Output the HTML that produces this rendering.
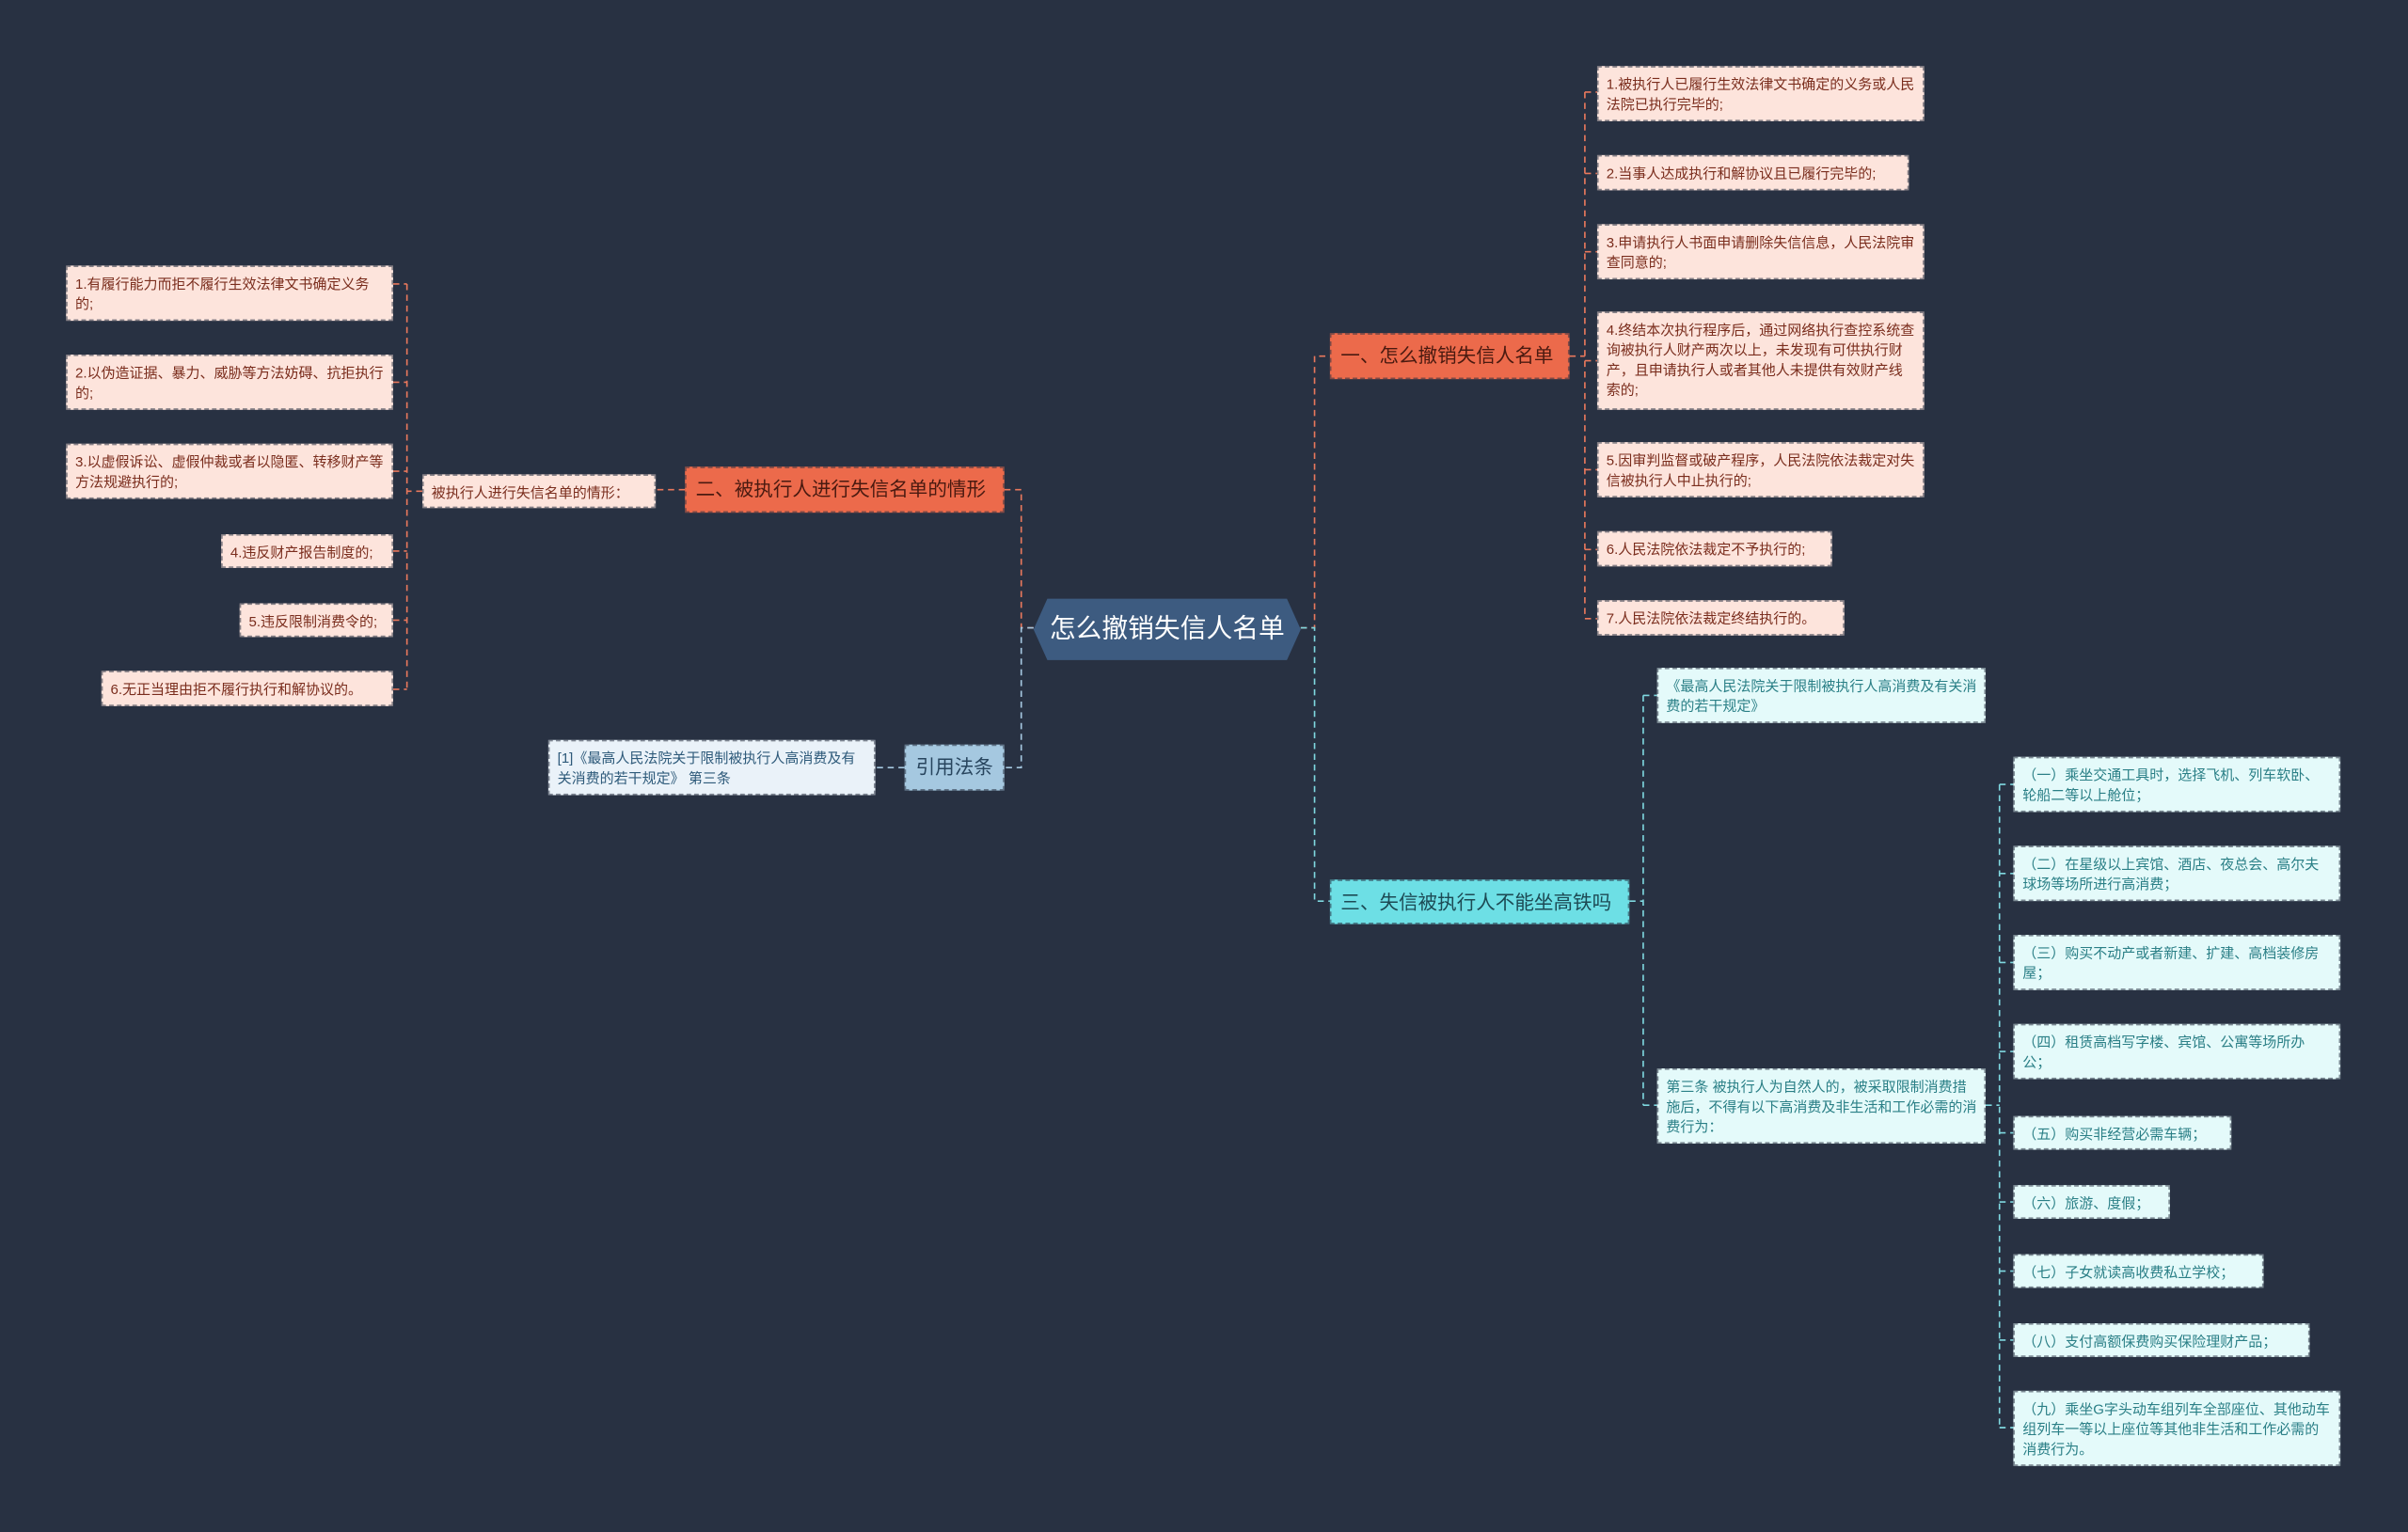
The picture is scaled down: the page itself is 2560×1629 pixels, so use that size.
<!DOCTYPE html>
<html><head><meta charset="utf-8"><style>
html,body{margin:0;padding:0;background:#283142;}
#w{position:relative;width:2560px;height:1629px;overflow:hidden;background:#283142;}
#s{position:absolute;left:0;top:0;width:1568px;height:998px;transform:scale(1.63265,1.63226);transform-origin:0 0;font-family:"Liberation Sans","Noto Sans CJK SC",sans-serif;}
.n{position:absolute;box-sizing:border-box;font-size:9.2px;line-height:13px;padding:5px 4px 5px 5px;border:1px dashed rgba(40,49,66,0.55);}
.p{background:#fde4dc;color:#7a2d1d;}
.c{background:#e4fafa;color:#2a7f86;}
.o,.t,.b{font-size:12.6px;line-height:18px;padding:5px 4px 5px 6px;white-space:nowrap;overflow:hidden;}
.o{background:#ec6a4b;color:#4a1a10;}
.t{background:#6ddfe5;color:#1d4a54;}
.b{background:#a5c8e0;color:#28455e;padding:5px 0;}
.l{background:#eaf2f9;color:#2e5a7a;}
</style></head><body><div id="w"><div id="s">
<svg width="1568" height="998" style="position:absolute;left:0;top:0" fill="none" stroke-width="1" stroke-dasharray="4,3">
<g stroke="#e9785c">
<path d="M847 409 H856 V232 H866"/>
<path d="M1022 232 H1032 M1032 60 V403 M1032 60 H1040 M1032 113 H1040 M1032 164 H1040 M1032 235 H1040 M1032 306 H1040 M1032 358 H1040 M1032 403 H1040"/>
<path d="M673 409 H665 V319 H654"/>
<path d="M446 319 H427 M275 320 H265 M265 185 V449 M256 185 H265 M256 249 H265 M256 307 H265 M256 359 H265 M256 404 H265 M256 449 H265"/>
</g>
<g stroke="#7fd8e0">
<path d="M847 409 H856 V587 H866"/>
<path d="M1061 587 H1070 M1070 453 V720 M1070 453 H1079 M1070 720 H1079"/>
<path d="M1293 720 H1302 M1302 511 V930 M1302 511 H1311 M1302 569 H1311 M1302 627 H1311 M1302 685 H1311 M1302 738 H1311 M1302 783 H1311 M1302 828 H1311 M1302 873 H1311 M1302 930 H1311"/>
</g>
<g stroke="#a5c8e0">
<path d="M673 409 H665 V500 H654 M589 500 H570"/>
</g>
</svg>
<svg width="176" height="42" style="position:absolute;left:672px;top:389px"><polygon points="10,1 166,1 175,21 166,41 10,41 1,21" fill="#3d5b80"/></svg>
<div style="position:absolute;left:673px;top:390px;width:174px;height:40px;line-height:40px;text-align:center;color:#fff;font-size:17px;">怎么撤销失信人名单</div>

<div class="n o" style="left:866px;top:217px;width:156px;height:30px;">一、怎么撤销失信人名单</div>
<div class="n o" style="left:446px;top:304px;width:208px;height:30px;">二、被执行人进行失信名单的情形</div>
<div class="n t" style="left:866px;top:573px;width:195px;height:29px;">三、失信被执行人不能坐高铁吗</div>
<div class="n b" style="left:589px;top:485px;width:65px;height:30px;text-align:center;">引用法条</div>
<div class="n l" style="left:357px;top:482px;width:213px;height:36px;">[1]《最高人民法院关于限制被执行人高消费及有关消费的若干规定》 第三条</div>

<div class="n p" style="left:275px;top:309px;width:152px;height:22px;white-space:nowrap;">被执行人进行失信名单的情形：</div>
<div class="n p" style="left:43px;top:173px;width:213px;height:36px;">1.有履行能力而拒不履行生效法律文书确定义务的;</div>
<div class="n p" style="left:43px;top:231px;width:213px;height:36px;">2.以伪造证据、暴力、威胁等方法妨碍、抗拒执行的;</div>
<div class="n p" style="left:43px;top:289px;width:213px;height:36px;">3.以虚假诉讼、虚假仲裁或者以隐匿、转移财产等方法规避执行的;</div>
<div class="n p" style="left:144px;top:348px;width:112px;height:22px;white-space:nowrap;">4.违反财产报告制度的;</div>
<div class="n p" style="left:156px;top:393px;width:100px;height:22px;white-space:nowrap;">5.违反限制消费令的;</div>
<div class="n p" style="left:66px;top:437px;width:190px;height:23px;white-space:nowrap;">6.无正当理由拒不履行执行和解协议的。</div>

<div class="n p" style="left:1040px;top:43px;width:213px;height:36px;">1.被执行人已履行生效法律文书确定的义务或人民法院已执行完毕的;</div>
<div class="n p" style="left:1040px;top:101px;width:203px;height:23px;white-space:nowrap;">2.当事人达成执行和解协议且已履行完毕的;</div>
<div class="n p" style="left:1040px;top:146px;width:213px;height:36px;">3.申请执行人书面申请删除失信信息，人民法院审查同意的;</div>
<div class="n p" style="left:1040px;top:203px;width:213px;height:64px;">4.终结本次执行程序后，通过网络执行查控系统查询被执行人财产两次以上，未发现有可供执行财产，且申请执行人或者其他人未提供有效财产线索的;</div>
<div class="n p" style="left:1040px;top:288px;width:213px;height:36px;">5.因审判监督或破产程序，人民法院依法裁定对失信被执行人中止执行的;</div>
<div class="n p" style="left:1040px;top:346px;width:153px;height:23px;white-space:nowrap;">6.人民法院依法裁定不予执行的;</div>
<div class="n p" style="left:1040px;top:391px;width:161px;height:23px;white-space:nowrap;">7.人民法院依法裁定终结执行的。</div>

<div class="n c" style="left:1079px;top:435px;width:214px;height:36px;">《最高人民法院关于限制被执行人高消费及有关消费的若干规定》</div>
<div class="n c" style="left:1079px;top:696px;width:214px;height:49px;">第三条 被执行人为自然人的，被采取限制消费措施后，不得有以下高消费及非生活和工作必需的消费行为：</div>

<div class="n c" style="left:1311px;top:493px;width:213px;height:36px;">（一）乘坐交通工具时，选择飞机、列车软卧、轮船二等以上舱位；</div>
<div class="n c" style="left:1311px;top:551px;width:213px;height:36px;">（二）在星级以上宾馆、酒店、夜总会、高尔夫球场等场所进行高消费；</div>
<div class="n c" style="left:1311px;top:609px;width:213px;height:36px;">（三）购买不动产或者新建、扩建、高档装修房屋；</div>
<div class="n c" style="left:1311px;top:667px;width:213px;height:36px;">（四）租赁高档写字楼、宾馆、公寓等场所办公；</div>
<div class="n c" style="left:1311px;top:727px;width:142px;height:22px;white-space:nowrap;">（五）购买非经营必需车辆；</div>
<div class="n c" style="left:1311px;top:772px;width:102px;height:22px;white-space:nowrap;">（六）旅游、度假；</div>
<div class="n c" style="left:1311px;top:817px;width:163px;height:22px;white-space:nowrap;">（七）子女就读高收费私立学校；</div>
<div class="n c" style="left:1311px;top:862px;width:193px;height:22px;white-space:nowrap;">（八）支付高额保费购买保险理财产品；</div>
<div class="n c" style="left:1311px;top:906px;width:213px;height:49px;">（九）乘坐G字头动车组列车全部座位、其他动车组列车一等以上座位等其他非生活和工作必需的消费行为。</div>
</div></div></body></html>
